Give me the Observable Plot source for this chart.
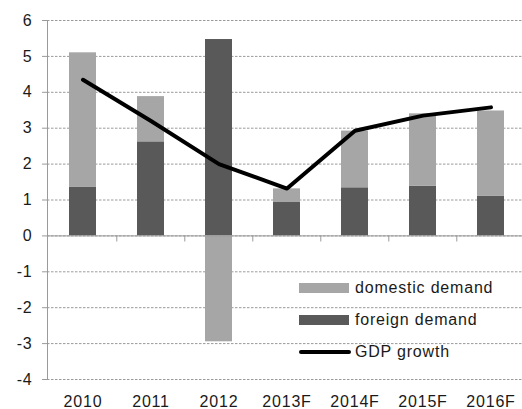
<!DOCTYPE html>
<html>
<head>
<meta charset="utf-8">
<script src="https://cdn.jsdelivr.net/npm/d3@7"></script>
<script src="https://cdn.jsdelivr.net/npm/@observablehq/plot@0.6"></script>
<style>
  html, body { margin: 0; padding: 0; background: #fff; overflow: hidden; }
  #wrap { position: relative; width: 522px; height: 409px; font-family: "Liberation Sans", Arial, sans-serif; letter-spacing: 0.8px; color: #1a1a1a; }
  #legend { position: absolute; left: 299px; top: 272px; font-size: 16px; }
  .row { display: flex; align-items: center; height: 32px; }
  .sw { width: 50px; height: 10px; margin-right: 6px; }
  .ln { width: 52px; height: 4px; border-radius: 2px; background: #000; margin-right: 4px; }
</style>
</head>
<body>
<div id="wrap"></div>
<script>
const years = ["2010", "2011", "2012", "2013F", "2014F", "2015F", "2016F"];
const foreignDemand = [1.35, 2.62, 5.47, 0.93, 1.34, 1.38, 1.11];
const domesticDemand = [3.75, 1.26, -2.95, 0.38, 1.58, 2.02, 2.37];
const gdpGrowth = [4.35, 3.2, 2.0, 1.32, 2.93, 3.35, 3.58];
const yTicks = [-4, -3, -2, -1, 0, 1, 2, 3, 4, 5, 6];
const seriesNames = ["foreign demand", "domestic demand"];
const seriesColors = ["#595959", "#a6a6a6"];

const barRows = [];
years.forEach((y, i) => {
  barRows.push({year: y, series: "foreign demand", value: foreignDemand[i]});
  barRows.push({year: y, series: "domestic demand", value: domesticDemand[i]});
});
const lineRows = years.map((y, i) => ({year: y, value: gdpGrowth[i]}));

const W = 522, H = 409, ML = 47, MR = -3.8;
const step = (W - ML - MR) / years.length;
const font = "Liberation Sans, Arial, sans-serif";

const chart = Plot.plot({
  width: W,
  height: H,
  marginLeft: ML,
  marginRight: MR,
  marginTop: 20,
  marginBottom: 30,
  style: {fontFamily: font, fontSize: "16px", letterSpacing: "0.8px", color: "#1a1a1a", overflow: "visible"},
  x: {domain: years, paddingInner: 0.6, paddingOuter: 0.3, axis: null, label: null},
  y: {domain: [-4, 6], axis: null, label: null},
  color: {domain: seriesNames, range: seriesColors},
  marks: [
    Plot.gridY(yTicks, {stroke: "#9a9a9a", strokeOpacity: 1, strokeDasharray: "2.5,1.5"}),
    Plot.barY(barRows, {x: "year", y: "value", fill: "series"}),
    Plot.ruleY([0], {stroke: "#9a9a9a", strokeWidth: 1}),
    Plot.ruleX(years.slice(1), {x: d => d, y1: 0, y2: -0.17, dx: -step / 2, stroke: "#9a9a9a"}),
    Plot.line(lineRows, {x: "year", y: "value", stroke: "#000", strokeWidth: 4, strokeLinejoin: "round", strokeLinecap: "round"}),
    Plot.axisY(yTicks, {tickSize: 5, tickPadding: 10, stroke: "#9a9a9a", fill: "#1a1a1a", fontSize: 16, label: null, tickFormat: d => String(d)}),
    Plot.axisX({tickSize: 0, tickPadding: 16, fill: "#1a1a1a", fontSize: 16, label: null}),
    Plot.frame({anchor: "left", stroke: "#9a9a9a"})
  ]
});

const wrap = document.getElementById("wrap");
wrap.appendChild(chart);

const legendItems = [
  {label: "domestic demand", color: seriesColors[1], kind: "bar"},
  {label: "foreign demand", color: seriesColors[0], kind: "bar"},
  {label: "GDP growth", color: "#000", kind: "line"}
];
const legend = document.createElement("div");
legend.id = "legend";
legendItems.forEach(it => {
  const row = document.createElement("div");
  row.className = "row";
  const sw = document.createElement("div");
  sw.className = it.kind === "bar" ? "sw" : "ln";
  sw.style.background = it.color;
  const tx = document.createElement("span");
  tx.textContent = it.label;
  row.appendChild(sw);
  row.appendChild(tx);
  legend.appendChild(row);
});
wrap.appendChild(legend);
</script>
</body>
</html>
